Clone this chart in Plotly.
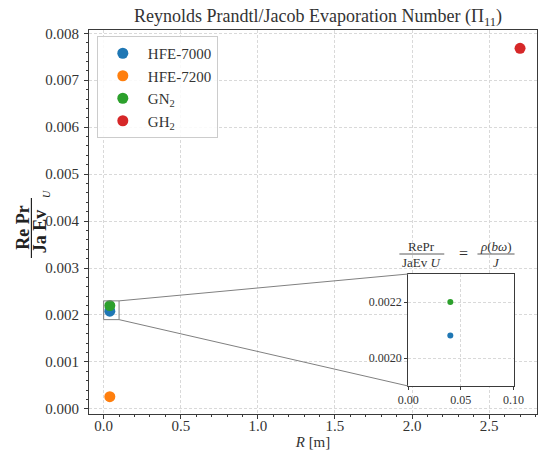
import plotly.graph_objects as go

# ---- data ----
fluids = ["HFE-7000", "HFE-7200", "GN<sub>2</sub>", "GH<sub>2</sub>"]
colors = ["#1f77b4", "#ff7f0e", "#2ca02c", "#d62728"]
R_vals = [0.04, 0.04, 0.04, 2.70]
pi11_vals = [0.00208, 0.00026, 0.00220, 0.00768]

x_ticks = [0.0, 0.5, 1.0, 1.5, 2.0, 2.5]
y_ticks = [0.000, 0.001, 0.002, 0.003, 0.004, 0.005, 0.006, 0.007, 0.008]
inset_x_ticks = [0.00, 0.05, 0.10]
inset_y_ticks = [0.0020, 0.0022]
inset_xlim = [0.0, 0.1]
inset_ylim = [0.0019, 0.0023]

W, H = 548, 455
ML, MR, MT, MB = 89, 0, 30, 41
xr = [-0.095, 2.81]
yr = [-0.00011, 0.00807]

FONT = "Liberation Serif"
GRID = "#d9d9d9"
SPINE = "#3a3a3a"
TXT = "#333333"

fig = go.Figure()

for name, c, x, y in zip(fluids, colors, R_vals, pi11_vals):
    fig.add_trace(go.Scatter(x=[x], y=[y], mode="markers", name=name,
                             marker=dict(color=c, size=11),
                             xaxis="x", yaxis="y"))

for name, c, x, y in zip(fluids, colors, R_vals, pi11_vals):
    if inset_xlim[0] <= x <= inset_xlim[1] and inset_ylim[0] <= y <= inset_ylim[1]:
        fig.add_trace(go.Scatter(x=[x], y=[y], mode="markers", name=name,
                                 marker=dict(color=c, size=6), showlegend=False,
                                 xaxis="x2", yaxis="y2"))

pw = W - ML - MR
ph = H - MT - MB
ix0, ix1, iy_top, iy_bot = 416, 524, 274, 386
dx = [(ix0 - ML) / pw, (ix1 - ML) / pw]
dy = [(H - MB - iy_bot) / ph, (H - MB - iy_top) / ph]

common_axis = dict(showline=True, linecolor=SPINE, linewidth=1, mirror=True,
                   ticks="outside", ticklen=4, tickcolor=SPINE,
                   showgrid=True, gridcolor=GRID, griddash="3px,2px", gridwidth=0.8,
                   zeroline=False, tickfont=dict(family=FONT, size=15, color=TXT))
inset_axis = {**common_axis, "tickfont": dict(family=FONT, size=12, color=TXT), "ticklen": 3}

fig.update_layout(
    width=W, height=H,
    margin=dict(l=ML, r=MR, t=MT, b=MB),
    paper_bgcolor="white", plot_bgcolor="white",
    font=dict(family=FONT, color=TXT),
    title=dict(text="Reynolds Prandtl/Jacob Evaporation Number (Π<sub>11</sub>)",
               x=318 / W, xanchor="center", y=1 - 16 / H, yanchor="middle",
               font=dict(family=FONT, size=18, color=TXT)),
    xaxis=dict(domain=[0, 1], range=xr, tickvals=x_ticks, tickformat=".1f",
               minor=dict(dtick=0.1, ticks="outside", ticklen=2, tickcolor=SPINE, showgrid=False),
               title=dict(text="<i>R</i> [m]", font=dict(family=FONT, size=15, color=TXT), standoff=0),
               ticklabelstandoff=-6,
               **common_axis),
    yaxis=dict(domain=[0, 1], range=yr, tickvals=y_ticks, tickformat=".3f",
               minor=dict(dtick=0.0002, ticks="outside", ticklen=2, tickcolor=SPINE, showgrid=False),
               ticklabelstandoff=2,
               **common_axis),
    xaxis2=dict(domain=dx, range=inset_xlim, tickvals=inset_x_ticks, tickformat=".2f",
                anchor="y2", **inset_axis),
    yaxis2=dict(domain=dy, range=inset_ylim, tickvals=inset_y_ticks, tickformat=".4f",
                anchor="x2", **inset_axis),
    legend=dict(x=(97 - ML) / pw, y=(H - MB - 36) / ph, xanchor="left", yanchor="top",
                bgcolor="rgba(255,255,255,0.85)", bordercolor="#cccccc", borderwidth=1,
                font=dict(family=FONT, size=15, color=TXT), itemwidth=40,
                tracegroupgap=0),
    showlegend=True,
)

fig.add_shape(type="rect", xref="x", yref="y", x0=inset_xlim[0], x1=inset_xlim[1],
              y0=inset_ylim[0], y1=inset_ylim[1], line=dict(color="#808080", width=1))


def paper_to_data(px, py):
    return xr[0] + px * (xr[1] - xr[0]), yr[0] + py * (yr[1] - yr[0])


tlx, tly = paper_to_data(dx[0], dy[1])
blx, bly = paper_to_data(dx[0], dy[0])
fig.add_shape(type="line", xref="x", yref="y", x0=inset_xlim[1], y0=inset_ylim[1], x1=tlx, y1=tly,
              line=dict(color="#808080", width=1))
fig.add_shape(type="line", xref="x", yref="y", x0=inset_xlim[1], y0=inset_ylim[0], x1=blx, y1=bly,
              line=dict(color="#808080", width=1))


def px_x(p):
    return (p - ML) / pw


def px_y(p):
    return (H - MB - p) / ph


def label(x, y, text, size, color=TXT, angle=0):
    fig.add_annotation(xref="paper", yref="paper", x=px_x(x), y=px_y(y), text=text,
                       showarrow=False, xanchor="center", yanchor="middle", textangle=angle,
                       font=dict(family=FONT, size=size, color=color))


def bar(x0, y0, x1, y1, color=TXT, width=0.8):
    fig.add_shape(type="line", xref="paper", yref="paper", x0=px_x(x0), x1=px_x(x1),
                  y0=px_y(y0), y1=px_y(y1), line=dict(color=color, width=width))


# y-axis label: rotated fraction (Re Pr)/(Ja Ev U)
label(21, 228, "<b>Re Pr</b>", 18, "#222", -90)
label(39, 231, "<b>Ja Ev</b>", 18, "#222", -90)
label(45, 194, "<i>U</i>", 10, "#222", -90)
bar(30, 198, 30, 258, "#222", 1.2)

# inset title: RePr/(JaEv U) = rho(b omega)/J
fs = 13
label(430, 246, "RePr", fs)
label(430, 262, "JaEv <i>U</i>", fs)
bar(407, 254, 453, 254)
label(473, 254, "=", 16)
label(506, 246, "<i>ρ</i>(<i>bω</i>)", fs)
label(506, 262, "<i>J</i>", fs)
bar(487, 254, 525, 254)

fig.write_html("out.html")
